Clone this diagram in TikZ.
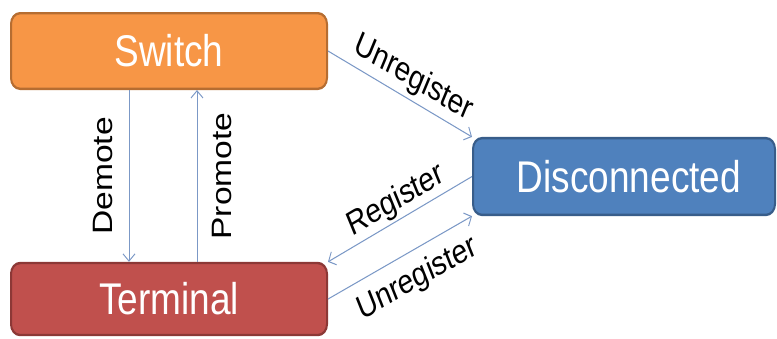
\documentclass[tikz,border=0pt]{standalone}
\usepackage{fontspec}
\setmainfont{Liberation Sans}
\usetikzlibrary{arrows.meta}
\definecolor{swfill}{HTML}{F79646}
\definecolor{swline}{HTML}{B66D31}
\definecolor{tmfill}{HTML}{C0504D}
\definecolor{tmline}{HTML}{8C3836}
\definecolor{dcfill}{HTML}{4F81BD}
\definecolor{dcline}{HTML}{385D8A}
\definecolor{link}{HTML}{7B98C6}
\begin{document}
\begin{tikzpicture}[x=1pt,y=-1pt,
  state/.style={rounded corners=9pt, line width=2pt, text=white,
    font=\fontsize{37}{40}\selectfont, inner sep=0pt},
  trans/.style={draw=link, line width=0.9pt,
    -{Straight Barb[length=6pt,width=12pt]}},
  lbl/.style={font=\fontsize{28}{30}\selectfont, inner sep=0pt}]
\useasboundingbox (0,0) rectangle (777,338);
% the whole chart is drawn with a vertical stretch
\begin{scope}[transform canvas={yscale=1.2}]
  \node[state, fill=swfill, draw=swline, minimum width=316pt, minimum height=63pt]
    (sw) at (169,42.5) {Switch};
  \node[state, fill=tmfill, draw=tmline, minimum width=316pt, minimum height=60pt]
    (tm) at (169,249.2) {Terminal};
  \node[state, fill=dcfill, draw=dcline, minimum width=302pt, minimum height=64pt]
    (dc) at (624,147.1) {\hspace*{10pt}Disconnected};

  \draw[trans] ([xshift=-40pt]sw.south) --
    node[lbl, midway, rotate=90, anchor=south, inner ysep=16pt] {Demote}
    ([xshift=-40pt]tm.north);
  \draw[trans] ([xshift=28pt]tm.north) --
    node[lbl, midway, rotate=90, anchor=north, inner ysep=15pt] {Promote}
    ([xshift=28pt]sw.south);

  \draw[trans] (sw.east) --
    node[lbl, pos=0.54, sloped, above=4pt] {Unregister} (dc.north west);
  \draw[trans] (dc.west) --
    node[lbl, pos=0.48, sloped, above=2pt] {Register} (tm.north east);
  \draw[trans] (tm.east) --
    node[lbl, pos=0.55, sloped, below=10pt] {Unregister} (dc.south west);
\end{scope}
\end{tikzpicture}
\end{document}
